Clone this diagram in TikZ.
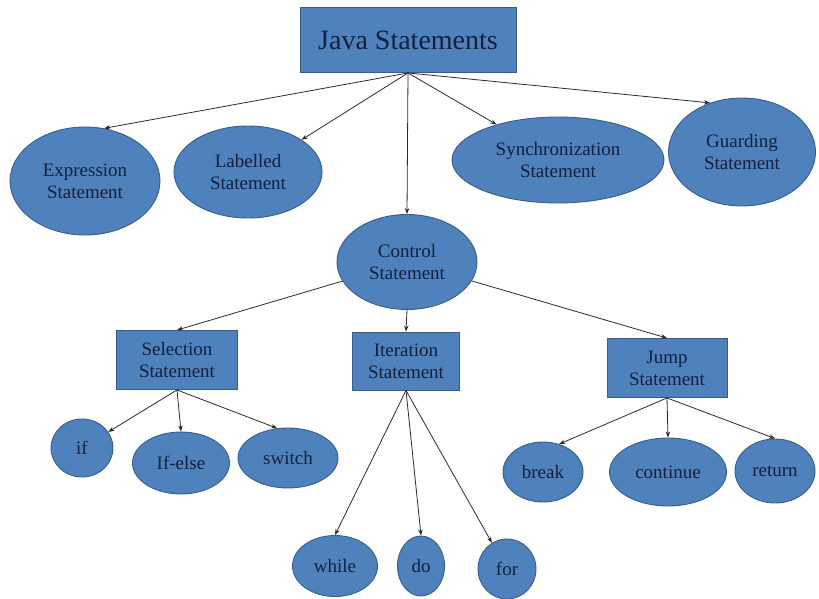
\documentclass[tikz,border=0pt]{standalone}
\usepackage{fontspec}
\setmainfont{Liberation Serif}
\usetikzlibrary{shapes.geometric,arrows.meta}
\definecolor{fillblue}{HTML}{4F81BD}
\definecolor{edgeblue}{HTML}{385D8A}
\definecolor{inkblue}{HTML}{14203A}
\definecolor{wire}{HTML}{2B2B2B}
\tikzset{
  base/.style={fill=fillblue, draw=edgeblue, line width=0.9pt, text=inkblue,
    align=center, inner sep=0pt, font=\fontsize{19}{22}\selectfont},
  oval/.style={base, ellipse},
  box/.style={base, rectangle},
  link/.style={draw=wire, line width=0.8pt, -{Stealth[length=6pt,width=4.5pt]}}
}
\begin{document}
\begin{tikzpicture}[x=1pt,y=-1pt]
\useasboundingbox (0,0) rectangle (819,599);

% root
\node[box, minimum width=216pt, minimum height=65pt, font=\fontsize{28}{32}\selectfont] (java) at (408,40) {Java Statements};

% first level
\node[oval, minimum width=150pt, minimum height=108pt] (expr) at (85,181) {Expression\\Statement};
\node[oval, minimum width=148pt, minimum height=92pt] (lab) at (248,172) {Labelled\\Statement};
\node[oval, minimum width=140pt, minimum height=95pt] (ctrl) at (407,262) {Control\\Statement};
\node[oval, minimum width=212pt, minimum height=86pt] (sync) at (558,160) {Synchronization\\Statement};
\node[oval, minimum width=147pt, minimum height=108pt] (guard) at (742,152) {Guarding\\Statement};

% control statement kinds
\node[box, minimum width=121pt, minimum height=59pt] (sel) at (177,360) {Selection\\Statement};
\node[box, minimum width=107pt, minimum height=58pt] (iter) at (406,361) {Iteration\\Statement};
\node[box, minimum width=120pt, minimum height=59pt] (jump) at (667,368) {Jump\\Statement};

% selection
\node[oval, minimum width=62pt, minimum height=58pt] (if) at (82,448) {if};
\node[oval, minimum width=97pt, minimum height=62pt] (ifelse) at (181,463) {If-else};
\node[oval, minimum width=100pt, minimum height=60pt] (switch) at (288,458) {switch};

% iteration
\node[oval, minimum width=85pt, minimum height=61pt] (while) at (335,566) {while};
\node[oval, minimum width=47pt, minimum height=60pt] (do) at (421,566) {do};
\node[oval, minimum width=58pt, minimum height=60pt] (for) at (507,569) {for};

% jump
\node[oval, minimum width=80pt, minimum height=60pt] (break) at (543,472) {break};
\node[oval, minimum width=117pt, minimum height=68pt] (cont) at (668,472) {continue};
\node[oval, minimum width=80pt, minimum height=64pt] (ret) at (775,471) {return};

% connectors
\draw[link] (java.south) -- (expr.70);
\draw[link] (java.south) -- (lab.31);
\draw[link] (java.south) -- (ctrl.north);
\draw[link] (java.south) -- (sync.150);
\draw[link] (java.south) -- (guard.123);

\draw[link] (ctrl) -- (sel.north);
\draw[link] (ctrl.south) -- (iter.north);
\draw[link] (ctrl) -- (jump.north);

\draw[link] (sel.south) -- (if);
\draw[link] (sel.south) -- (ifelse.north);
\draw[link] (sel.south) -- (switch.110);

\draw[link] (iter.south) -- (while.north);
\draw[link] (iter.south) -- (do.north);
\draw[link] (iter.south) -- (for.120);

\draw[link] (jump.south) -- (break.60);
\draw[link] (jump.south) -- (cont.north);
\draw[link] (jump.south) -- (ret.north);
\end{tikzpicture}
\end{document}
